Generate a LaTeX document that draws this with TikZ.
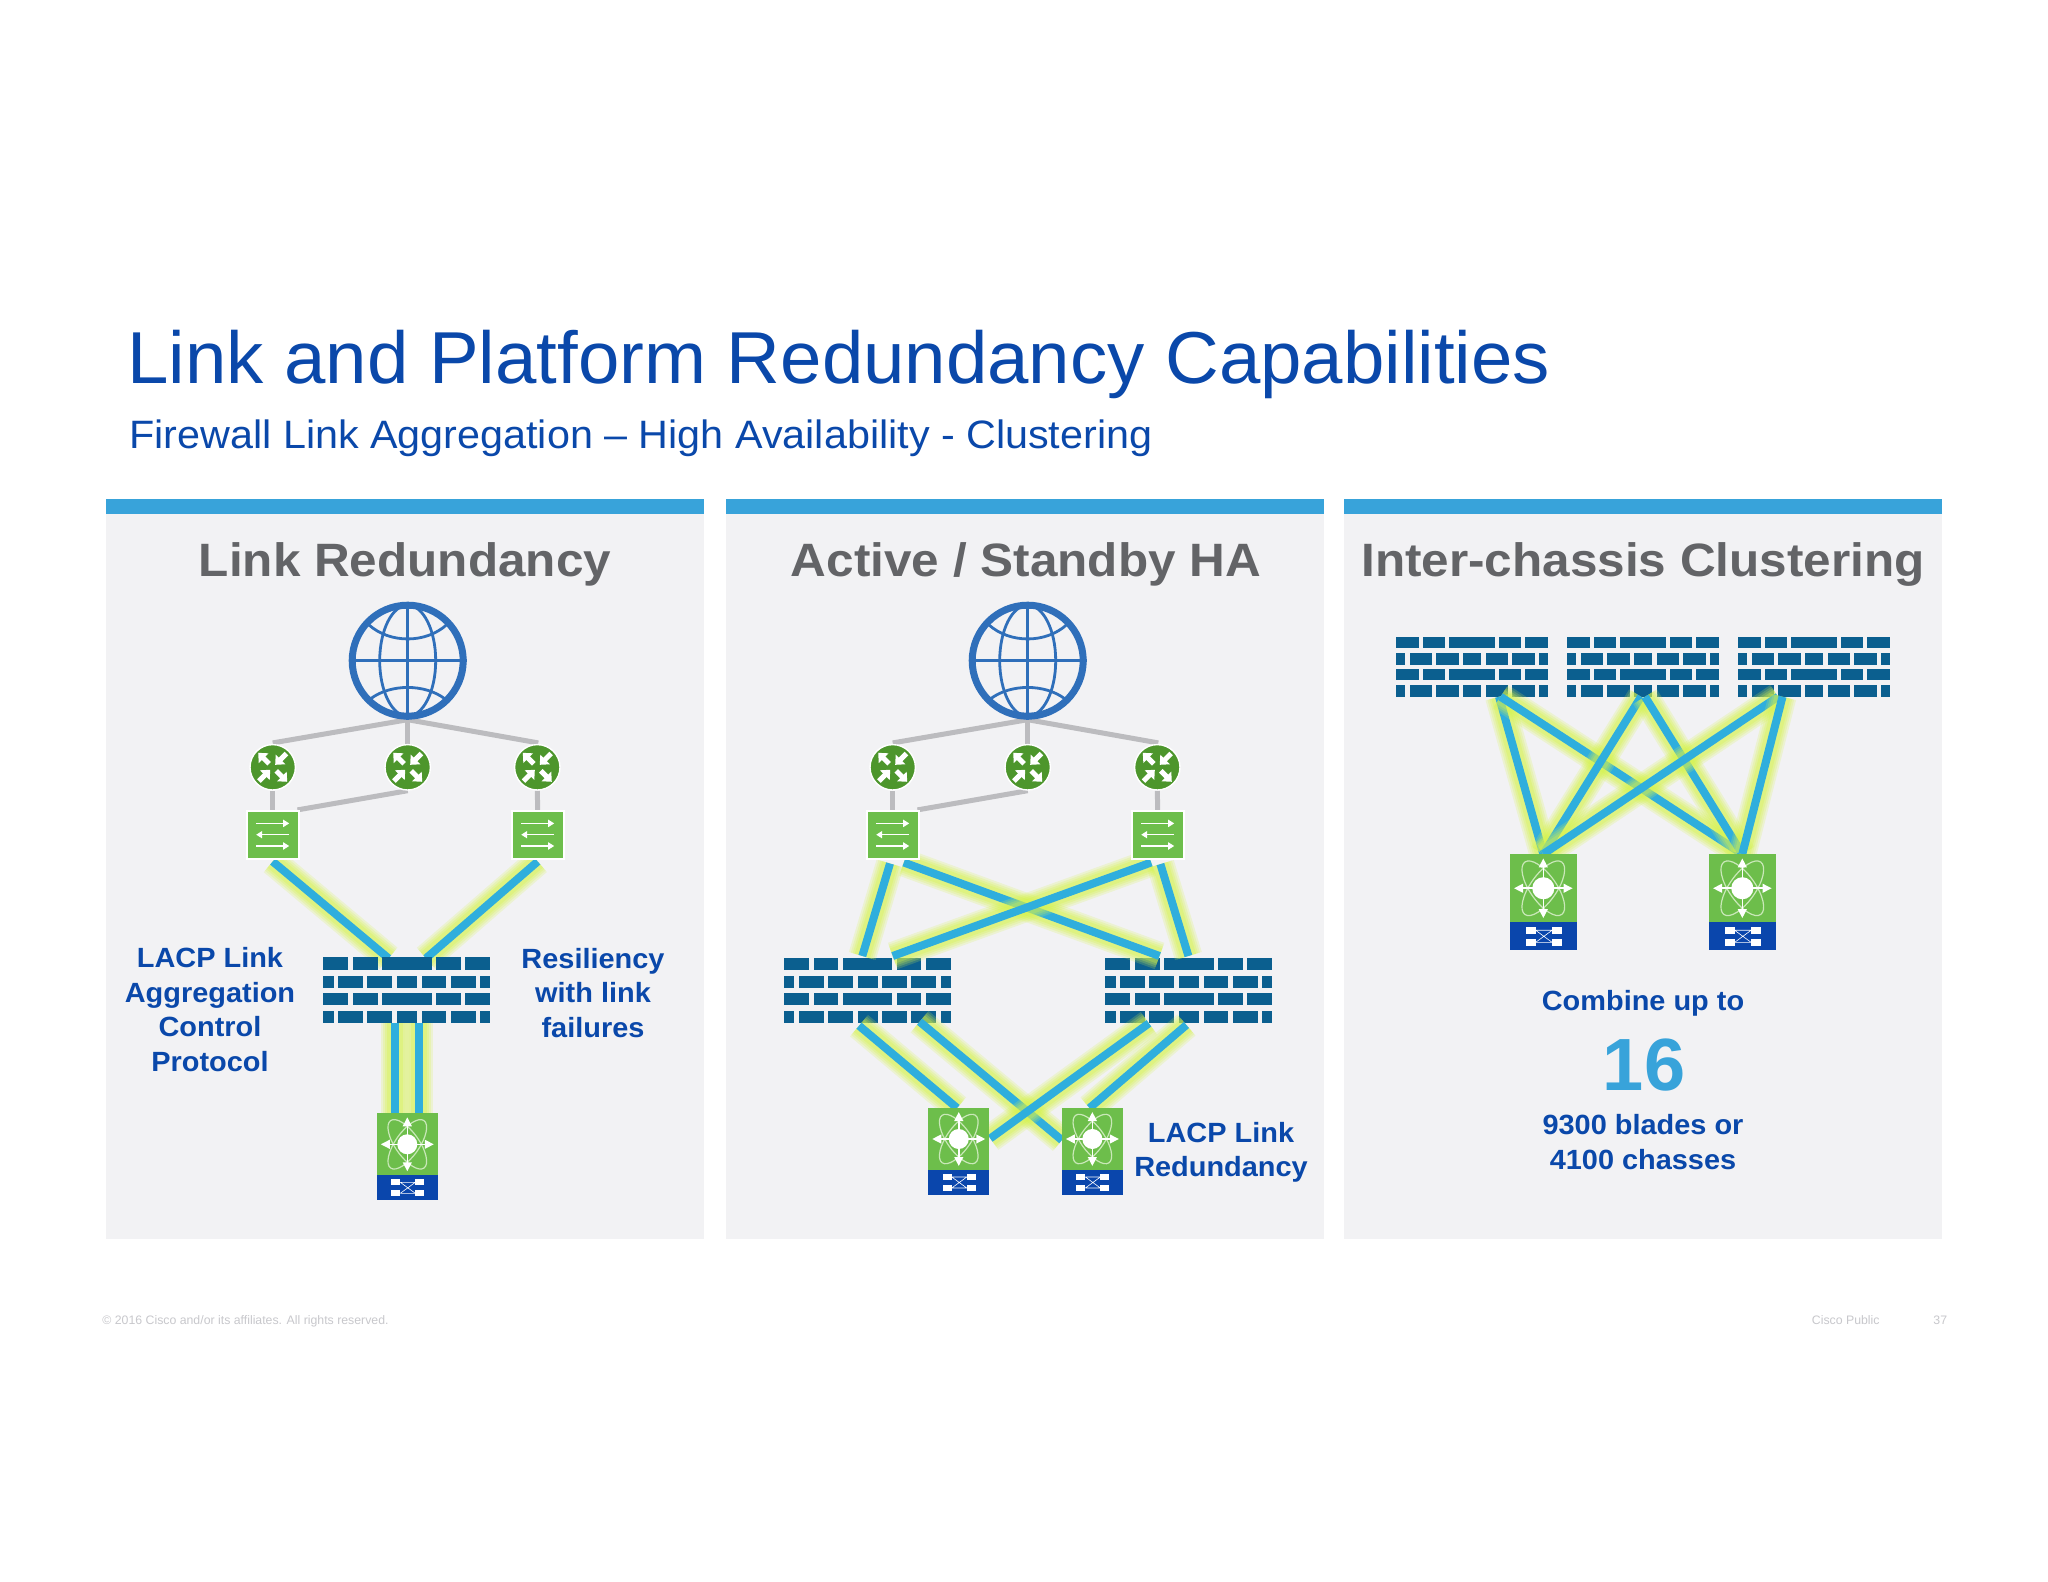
\documentclass[tikz,border=0pt]{standalone}
\usepackage{fontspec}
\setmainfont{Liberation Sans}
\newfontfamily\titlefont[FakeStretch=1.011]{Liberation Sans}
\newfontfamily\subfont[FakeStretch=1.043]{Liberation Sans}
\newfontfamily\headfont[FakeStretch=1.057]{Liberation Sans}
\newfontfamily\labelfont[FakeStretch=1.04]{Liberation Sans}
\usetikzlibrary{arrows.meta,calc}
\pgfdeclarelayer{under}
\pgfdeclarelayer{fwlayer}
\pgfdeclarelayer{links}
\pgfsetlayers{under,fwlayer,links,main}
\definecolor{titleblue}{HTML}{0A48AA}
\definecolor{barblue}{HTML}{38A3DA}
\definecolor{panelgray}{HTML}{F2F2F4}
\definecolor{headgray}{HTML}{636467}
\definecolor{globeblue}{HTML}{2F6FBA}
\definecolor{routergreen}{HTML}{4D962C}
\definecolor{switchgreen}{HTML}{6DBE4B}
\definecolor{fwblue}{HTML}{0B5F8F}
\definecolor{devblue}{HTML}{0A46AC}
\definecolor{linkblue}{HTML}{2FAEDD}
\definecolor{glowlime}{HTML}{D6F24A}
\definecolor{wiregray}{HTML}{BCBCBF}
\definecolor{footgray}{HTML}{C8C8CC}
\definecolor{orbitgreen}{HTML}{C9E8B8}
\tikzset{
  x=.5pt,y=-.5pt,
  panelfill/.style={fill=panelgray},
  barfill/.style={fill=barblue},
  headtext/.style={font=\headfont\bfseries\fontsize{23.4}{28}\selectfont,text=headgray,anchor=base,inner sep=0},
  bluetext/.style={font=\labelfont\bfseries\fontsize{13.9}{17.2}\selectfont,text=titleblue,align=center,anchor=base,inner sep=0},
  foottext/.style={font=\fontsize{6.15}{8}\selectfont,text=footgray,anchor=base west,inner sep=0},
  globenode/.style={circle,draw=globeblue,line width=3.5pt,minimum size=55.5pt,inner sep=0},
  globeline/.style={draw=globeblue,line width=1.4pt},
  routernode/.style={circle,fill=routergreen,draw=white,line width=.7pt,minimum size=22.7pt,inner sep=0},
  routerarrow/.style={draw=white,line width=2.5pt,-{Triangle[length=3.8pt,width=6.6pt]}},
  switchnode/.style={rectangle,fill=switchgreen,draw=white,line width=.8pt,minimum width=26pt,minimum height=24pt,inner sep=0},
  switcharrow/.style={draw=white,line width=.6pt,-{Triangle[length=3pt,width=3.6pt]}},
  wire/.style={draw=wiregray,line width=2.5pt},
  fwbox/.style={rectangle,inner sep=0,outer sep=0},
  devnode/.style={rectangle,fill=switchgreen,inner sep=0,outer sep=0,minimum width=30.5pt,minimum height=30.75pt,transform shape},
  devarrow/.style={draw=white,line width=.8pt,-{Triangle[length=4.5pt,width=4.4pt]}},
  orbit/.style={draw=orbitgreen,line width=.6pt},
  lanwire/.style={draw=white,line width=.3pt},
  link/.style={draw=linkblue,line width=4pt,
    preaction={draw=glowlime,opacity=.2,line width=14pt},
    preaction={draw=glowlime,opacity=.22,line width=12pt},
    preaction={draw=glowlime,opacity=.25,line width=10pt},
    preaction={draw=glowlime,opacity=.3,line width=8pt}},
}
% firewall: name, left, top, width, height
\newcommand\firewall[5]{%
  \node[fwbox,minimum width=#4*.5pt,minimum height=#5*.5pt] (#1) at ({#2+#4/2},{#3+#5/2}) {};
  \begin{scope}[shift={(#2,#3)},x=#4*.5pt,y=-#5*.5pt]
    \foreach \ya/\yb in {0/.192,.540/.727}{
      \foreach \xa/\xb in {0/.15,.178/.325,.351/.649,.677/.824,.85/1}{
        \fill[fwblue] (\xa,\ya) rectangle (\xb,\yb);}}
    \foreach \ya/\yb in {.278/.465,.808/1}{
      \foreach \xa/\xb in {0/.062,.09/.238,.263/.413,.441/.561,.589/.737,.762/.912,.94/1}{
        \fill[fwblue] (\xa,\ya) rectangle (\xb,\yb);}}
  \end{scope}}
% device: name, centre x, top y, scale
\newcommand\device[4]{%
  \begin{scope}[shift={(#2,#3)},scale=#4]
    \node[devnode] (#1) at (0,30.75) {};
    \fill[devblue] (-30.5,61.5) rectangle (30.5,86.5);
    \begin{scope}[shift={(0,31)}]
      \draw[orbit,rotate=35] (0,0) ellipse (12 and 29);
      \draw[orbit,rotate=-35] (0,0) ellipse (12 and 29);
      \draw[devarrow] (0,0) -- (0,-27);
      \draw[devarrow] (0,0) -- (0,27);
      \draw[devarrow] (0,0) -- (-26.5,0);
      \draw[devarrow] (0,0) -- (26.5,0);
      \fill[white] (0,0) circle (10);
    \end{scope}
    \begin{scope}[shift={(0,74)}]
      \draw[lanwire] (-7,-5) -- (8,-5) (-7,6) -- (8,6) (-7,-5) -- (8,6) (-7,6) -- (8,-5);
      \fill[white] (-16,-8) rectangle (-7,-2);
      \fill[white] (8,-8) rectangle (17,-2);
      \fill[white] (-16,3) rectangle (-7,9);
      \fill[white] (8,3) rectangle (17,9);
    \end{scope}
  \end{scope}}
% router icon
\newcommand\router[2]{%
  \node[routernode] (#1) at #2 {};
  \begin{scope}[shift={(#1.center)}]
    \draw[routerarrow] (45:5) -- (45:20.5);
    \draw[routerarrow] (225:5) -- (225:20.5);
    \draw[routerarrow] (-45:19.5) -- (-45:3.5);
    \draw[routerarrow] (135:19.5) -- (135:3.5);
  \end{scope}}
% switch icon
\newcommand\lanswitch[2]{%
  \node[switchnode] (#1) at #2 {};
  \begin{scope}[shift={(#1.center)}]
    \draw[switcharrow] (-16.5,-11.3) -- (16.5,-11.3);
    \draw[switcharrow] (16.5,0) -- (-16.5,0);
    \draw[switcharrow] (-16.5,11.3) -- (16.5,11.3);
  \end{scope}}
% globe, routers, switches and their wires: prefix, x shift
\newcommand\upstream[2]{%
  \begin{scope}[shift={(#2,0)}]
    \node[globenode] (#1g) at (407.7,660.7) {};
    \draw[globeline] (#1g.north) -- (#1g.south);
    \draw[globeline] (#1g.west) -- (#1g.east);
    \draw[globeline] (#1g.center) ellipse (28 and 55.5);
    \draw[globeline] ($(#1g.center)+(-39,-36)$) .. controls ($(#1g.center)+(-18,-17)$) and ($(#1g.center)+(18,-17)$) .. ($(#1g.center)+(39,-36)$);
    \draw[globeline] ($(#1g.center)+(-37,38)$) .. controls ($(#1g.center)+(-17,23)$) and ($(#1g.center)+(17,23)$) .. ($(#1g.center)+(37,38)$);
    \router{#1r1}{(272.7,767.3)}
    \router{#1r2}{(407.7,767.3)}
    \router{#1r3}{(537.3,767.3)}
    \lanswitch{#1s1}{(272.7,834.7)}
    \lanswitch{#1s2}{(537.7,834.7)}
    \begin{pgfonlayer}{links}
      \draw[wire] (#1g.south) -- ($(#1r1.north)+(0,-1)$);
      \draw[wire] (#1g.south) -- (#1r2.north);
      \draw[wire] (#1g.south) -- ($(#1r3.north)+(1,-1)$);
      \draw[wire] (#1r1.south) -- (#1s1.north);
      \draw[wire] (#1r3.south) -- (#1s2.north);
      \draw[wire] (#1r2.south) -- ($(#1s1.north east)+(-2,0)$);
    \end{pgfonlayer}
  \end{scope}}
\begin{document}
\begin{tikzpicture}
\useasboundingbox (0,0) rectangle (2048,1582);
% panels
\begin{pgfonlayer}{under}
  \fill[white] (0,0) rectangle (2048,1582);
  \fill[panelfill] (106,514) rectangle (704,1239);
  \fill[panelfill] (726,514) rectangle (1324,1239);
  \fill[panelfill] (1344,514) rectangle (1942,1239);
  \fill[barfill] (106,499) rectangle (704,514);
  \fill[barfill] (726,499) rectangle (1324,514);
  \fill[barfill] (1344,499) rectangle (1942,514);
\end{pgfonlayer}
% titles
\node[font=\titlefont\fontsize{36.8}{44}\selectfont,text=titleblue,anchor=base west,inner sep=0] (title) at (127,383.5) {Link and Platform Redundancy Capabilities};
\node[font=\subfont\fontsize{19.8}{24}\selectfont,text=titleblue,anchor=base west,inner sep=0] (subtitle) at (129,448.5) {Firewall Link Aggregation – High Availability - Clustering};
\node[headtext] (h1) at (405,576.5) {Link Redundancy};
\node[headtext] (h2) at (1026,576.5) {Active / Standby HA};
\node[headtext] (h3) at (1643,576.5) {Inter-chassis Clustering};
% panel 1
\upstream{a}{0}
\firewall{afw}{323.3}{957.3}{167}{66}
\device{adev}{407.3}{1113.3}{1}
\begin{pgfonlayer}{links}
  \draw[link] ($(as1.south)+(0,2)$) -- ($(afw.north)+(-18.3,1)$);
  \draw[link] ($(as2.south)+(0,2)$) -- ($(afw.north)+(19.2,1)$);
  \draw[link] ($(afw.south)+(-12,0)$) -- ($(adev.north)+(-12.5,0)$);
  \draw[link] ($(afw.south)+(12,0)$) -- ($(adev.north)+(11.5,0)$);
\end{pgfonlayer}
\node[bluetext] (t1) at (210,1071) {LACP Link\\Aggregation\\Control\\Protocol};
\node[bluetext] (t2) at (593,1037) {Resiliency\\with link\\failures};
% panel 2
\upstream{b}{620}
\begin{pgfonlayer}{fwlayer}
  \firewall{bfw1}{784}{957.7}{166.8}{65.6}
  \firewall{bfw2}{1105.4}{957.7}{166.8}{65.6}
\end{pgfonlayer}
\device{bdev1}{958.75}{1108}{1}
\device{bdev2}{1092.35}{1108}{1}
\begin{pgfonlayer}{links}
  \draw[link] ($(bs1.south)+(-2.7,4)$) -- ($(bfw1.north)+(-5.1,-1.7)$);
  \draw[link] ($(bs1.south)+(11.1,3)$) -- ($(bfw2.north)+(-29.3,-1.7)$);
  \draw[link] ($(bs2.south)+(-6.5,3)$) -- ($(bfw1.north)+(25.3,-1.7)$);
  \draw[link] ($(bs2.south)+(2.7,4.6)$) -- ($(bfw2.north)+(-.4,-1.7)$);
  \draw[link] ($(bfw1.south)+(-8.4,2.4)$) -- ($(bdev1.north)+(-1.7,0)$);
  \draw[link] ($(bfw1.south)+(52.2,-1.6)$) -- ($(bdev2.west)+(0,1.4)$);
  \draw[link] ($(bfw2.south)+(-39.9,0)$) -- ($(bdev1.east)+(1,-.3)$);
  \draw[link] ($(bfw2.south)+(-2.4,1.7)$) -- ($(bdev2.north)+(-2.8,0)$);
\end{pgfonlayer}
\node[bluetext] (t3) at (1221,1176.7) {LACP Link\\Redundancy};
% panel 3
\begin{pgfonlayer}{fwlayer}
  \firewall{cfw1}{1396}{636.7}{152}{60}
  \firewall{cfw2}{1567}{636.7}{152}{60}
  \firewall{cfw3}{1738}{636.7}{152}{60}
\end{pgfonlayer}
\device{cdev1}{1543.3}{854}{1.105}
\device{cdev2}{1742.3}{854}{1.105}
\begin{pgfonlayer}{links}
  \draw[link] ($(cfw1.south)+(27,0)$) -- (cdev1.north);
  \draw[link] ($(cfw1.south)+(28.5,0)$) -- (cdev2.north);
  \draw[link] ($(cfw2.south)+(-2,0)$) -- (cdev1.north);
  \draw[link] ($(cfw2.south)+(2,0)$) -- (cdev2.north);
  \draw[link] ($(cfw3.south)+(-36,0)$) -- (cdev1.north);
  \draw[link] ($(cfw3.south)+(-31.5,0)$) -- (cdev2.north);
\end{pgfonlayer}
\node[bluetext] (t4) at (1643,1010.5) {Combine up to};
\node[font=\bfseries\fontsize{37}{44}\selectfont,text=barblue,anchor=base,inner sep=0] (t5) at (1644,1090) {16};
\node[bluetext] (t6) at (1643,1169) {9300 blades or\\4100 chasses};
% footer
\node[foottext] (f1) at (102,1324) {© 2016 Cisco and/or its affiliates. All rights reserved.};
\node[foottext] (f2) at (1811.5,1324) {Cisco Public};
\node[foottext] (f3) at (1933,1324) {37};
\end{tikzpicture}
\end{document}
